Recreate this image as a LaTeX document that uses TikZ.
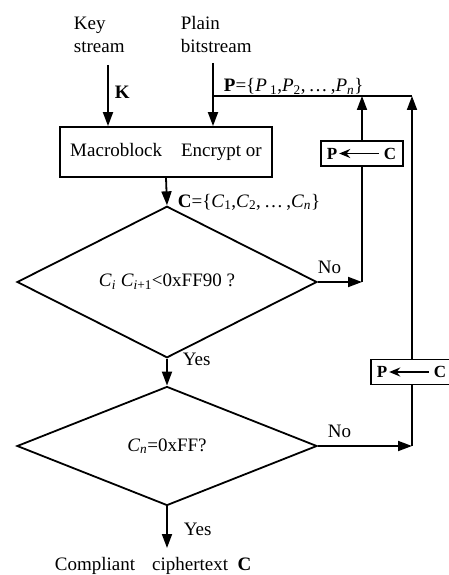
\documentclass[tikz,border=0pt]{standalone}
\usepackage{fontspec}
\setmainfont{Liberation Serif}
\usetikzlibrary{arrows.meta,shapes.geometric}
\newcommand\sbx[1]{\textsubscript{#1}}
\begin{document}
\begin{tikzpicture}[x=1pt,y=-1pt,line width=1.8pt,
  every node/.style={font=\fontsize{19}{23}\selectfont,inner sep=0pt},
  arr/.style={-{Triangle[length=14pt,width=10pt]}},
  thinarr/.style={-{Stealth[length=11pt,width=9pt]},line width=1.8pt},
  proc/.style={draw,rectangle,minimum width=212pt,minimum height=50pt},
  swapbox/.style={draw,rectangle,minimum width=82pt,minimum height=25pt},
  swaptxt/.style={font=\fontsize{17}{20}\selectfont\bfseries},
  dec/.style={draw,diamond,minimum width=300pt,minimum height=119pt},
  lbl/.style={anchor=base west,font=\fontsize{19}{23}\selectfont},
  txt/.style={anchor=base west}]
\useasboundingbox (0,0) rectangle (448,575);

% top texts
\node[txt] (key1) at (73,29.5) {Key};
\node[txt] (key2) at (73,52.5) {stream};
\node[txt] (pl1) at (180,29.5) {Plain};
\node[txt] (pl2) at (180,52.5) {bitstream};

% main blocks
\node[proc] (mb) at (166,152) {Macroblock\quad Encrypt or};
\node[dec] (d1) at (167,282) {\textit{C}\sbx{\textit{i}} \textit{C}\sbx{\textit{i}+1}<0xFF90 ?};
\node[dec] (d2) at (167,446) {\textit{C}\sbx{\textit{n}}=0xFF?};

% swap boxes
\node[swapbox] (sw1) at (362,153.5) {};
\node[swaptxt] (sw1p) at ([xshift=12pt]sw1.west) {P};
\node[swaptxt] (sw1c) at ([xshift=-14pt]sw1.east) {C};
\draw[thinarr,shorten <=4pt,shorten >=1pt] (sw1c) -- (sw1p);
\node[swapbox] (sw2) at (412,372) {};
\node[swaptxt] (sw2p) at ([xshift=12pt]sw2.west) {P};
\node[swaptxt] (sw2c) at ([xshift=-14pt]sw2.east) {C};
\draw[thinarr,shorten <=4pt,shorten >=1pt] (sw2c) -- (sw2p);

% coordinates
\coordinate (ks) at (108,65);
\coordinate (ps) at (213,63);
\coordinate (pj) at (213,96);
\coordinate (pr) at (412,96);
\coordinate (fin) at (167,548);

% connectors
\draw[arr] (ks) -- (ks |- mb.north);
\draw[arr] (ps) -- (ps |- mb.north);
\draw (pj) -- (pr);
\draw[arr] (sw1.north) -- (sw1.north |- pj);
\draw (sw1.south) -- (sw1.south |- d1.east);
\draw[arr] (d1.east) -- (sw1.south |- d1.east);
\draw[arr] (sw2.north) -- (sw2.north |- pj);
\draw (sw2.south) -- (sw2.south |- d2.east);
\draw[arr] (d2.east) -- (sw2.south |- d2.east);
\draw[arr] (mb.south) -- (d1.north);
\draw[arr] (d1.south) -- (d2.north);
\draw[arr] (d2.south) -- (fin);

% labels
\node[lbl] (klbl) at (114,99) {\textbf{K}};
\node[lbl] (plbl) at (223,91.5) {\textbf{P}=\{\textit{P}\,\sbx{1},\textit{P}\sbx{2},\,\ldots\,,\textit{P}\sbx{\textit{n}}\}};
\node[lbl] (clbl) at (177,207) {\textbf{C}=\{\textit{C}\sbx{1},\textit{C}\sbx{2},\,\ldots\,,\textit{C}\sbx{\textit{n}}\}};
\node[lbl] (no1) at (317,273) {No};
\node[lbl] (no2) at (327,437) {No};
\node[lbl] (yes1) at (182,365) {Yes};
\node[lbl] (yes2) at (183,535) {Yes};
\node[txt] (out) at (54,570.5) {Compliant\hspace{0.9em}ciphertext\hspace{0.5em}\textbf{C}};
\end{tikzpicture}
\end{document}
